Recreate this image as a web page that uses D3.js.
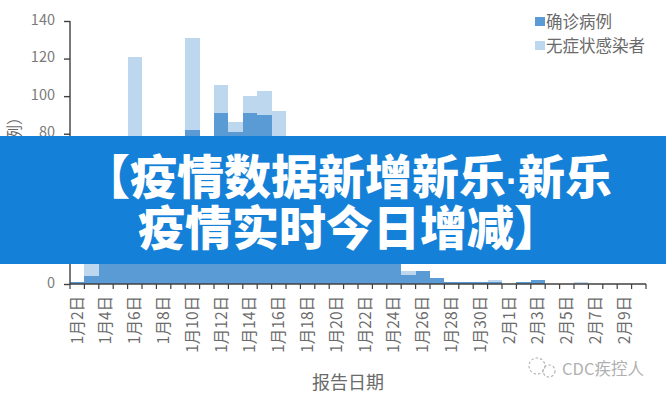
<!DOCTYPE html>
<html><head><meta charset="utf-8">
<script src="https://cdn.jsdelivr.net/npm/d3@7"></script>
<style>html,body{margin:0;padding:0;background:#fff}svg{display:block}text{font-family:"Noto Sans CJK SC","Noto Sans",sans-serif}</style>
</head><body><div id="c"></div>
<script>
const categories = ["1月2日","1月3日","1月4日","1月5日","1月6日","1月7日","1月8日","1月9日","1月10日","1月11日","1月12日","1月13日","1月14日","1月15日","1月16日","1月17日","1月18日","1月19日","1月20日","1月21日","1月22日","1月23日","1月24日","1月25日","1月26日","1月27日","1月28日","1月29日","1月30日","1月31日","2月1日","2月2日","2月3日","2月4日","2月5日","2月6日","2月7日","2月8日","2月9日","2月10日"];
const confirmed = [1,4,14,20,30,35,40,45,82,50,91,81,91,90,60,55,50,45,40,38,35,30,25,5,7,3,1,1,1,1,0,1,2,0,0,0,0,0,0,0];
const asymptomatic = [0,20,5,10,91,10,8,6,49,8,15,5,9,13,32,10,8,6,5,5,4,3,2,2,0,0,0,0,0,1,0,0,0,0,0,1,0,0,0,0];
const yTicks = [0,20,40,60,80,100,120,140];
const seriesNames = ["确诊病例","无症状感染者"];
const titleParts = ["【疫情数据新增新乐","·","新乐"];
const titleLine2 = "疫情实时今日增减】";
const colors = ["#5b9bd5","#bdd7ee"];
const W=666,H=400,L=70,R=646,T=21,B=284;
const svg=d3.select("#c").append("svg").attr("width",W).attr("height",H);
const x=d3.scaleBand().domain(categories).range([L,R]).padding(0);
const edge=d3.scaleLinear().domain([0,categories.length]).range([L,R]);
const y=d3.scaleLinear().domain([0,140]).range([B,T]);
const textCol="#6a6a6a", axisCol="#404040";

const rows=categories.map((c,i)=>({c,a:confirmed[i],b:asymptomatic[i]}));
const stacked=d3.stack().keys(["a","b"])(rows);
svg.append("g").attr("shape-rendering","crispEdges").selectAll("g").data(stacked).join("g").attr("fill",(d,i)=>colors[i])
  .selectAll("rect").data(d=>d).join("rect")
  .attr("x",d=>x(d.data.c)).attr("width",x.bandwidth())
  .attr("y",d=>y(d[1])).attr("height",d=>y(d[0])-y(d[1]));

const ya=svg.append("g").attr("transform",`translate(${L},0)`)
  .call(d3.axisLeft(y).tickValues(yTicks).tickSize(6).tickPadding(9));
ya.selectAll("path,line").attr("stroke",axisCol).attr("stroke-width",1.4);
ya.select("path").attr("d",`M0,${T}V${B}`);
ya.selectAll("text").attr("fill","#7a7a7a").style("font-size","14.5px").attr("dy","0.22em");

const xa=svg.append("g").attr("transform",`translate(0,${B})`)
  .call(d3.axisBottom(x).tickValues(categories.filter((d,i)=>i%2===0)).tickSize(0).tickPadding(13));
xa.select("path").attr("stroke",axisCol).attr("stroke-width",1.4).attr("d",`M${L},0H${R}`);
xa.selectAll("text").attr("fill",textCol).style("font-size","15.5px")
  .attr("text-anchor","end").attr("transform","rotate(-90)")
  .attr("x",-12).attr("y",0).attr("dy","0.35em");
xa.append("g").selectAll("line").data(d3.range(categories.length+1)).join("line")
  .attr("x1",d=>edge(d)).attr("x2",d=>edge(d)).attr("y1",0).attr("y2",5)
  .attr("stroke",axisCol).attr("stroke-width",1.2);

svg.append("text").attr("x",348).attr("y",389).attr("text-anchor","middle")
  .attr("fill",textCol).style("font-size","18px").text("报告日期");
svg.append("text").attr("transform","translate(20,109) rotate(-90)").attr("text-anchor","end")
  .attr("fill",textCol).style("font-size","16px").text("（例）");

const lg=svg.append("g").selectAll("g").data(seriesNames).join("g")
  .attr("transform",(d,i)=>`translate(535,${17+i*24})`);
lg.append("rect").attr("width",10).attr("height",9).attr("fill",(d,i)=>colors[i]);
lg.append("text").attr("x",11).attr("y",10.5).attr("fill",textCol).style("font-size","16.5px").text(d=>d);

const wm=svg.append("g").attr("fill","none").attr("stroke","#b4b4b4").attr("stroke-width",1.2).attr("stroke-dasharray","2.5 2");
wm.append("circle").attr("cx",537).attr("cy",366).attr("r",8);
wm.append("circle").attr("cx",549).attr("cy",371).attr("r",6);
svg.append("text").attr("x",562).attr("y",375).attr("fill","#b0b0b0").style("font-size","16.5px").text("CDC疾控人");

svg.append("rect").attr("x",0).attr("y",136).attr("width",W).attr("height",128).attr("fill","#1580d8");
const title=svg.append("text").attr("fill","#fff").style("font-size","47px").style("font-weight",900);
title.append("tspan").attr("x",83).attr("y",194).text(titleParts[0]);
title.append("tspan").style("font-family","Liberation Sans").style("font-weight",700).style("font-size","36px").text(titleParts[1]);
title.append("tspan").text(titleParts[2]);
title.append("tspan").attr("x",138).attr("y",245).text(titleLine2);
</script></body></html>
